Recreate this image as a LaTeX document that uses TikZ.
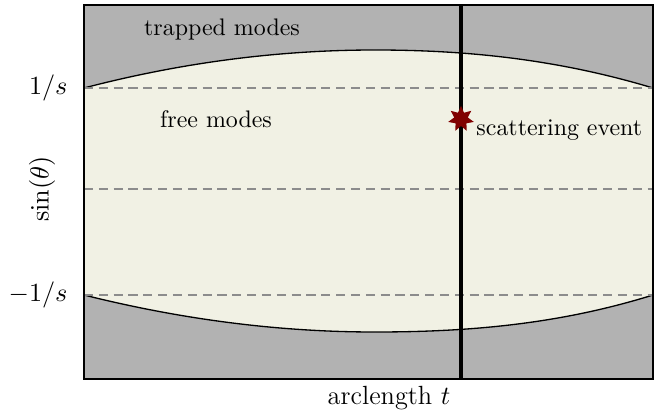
\documentclass[tikz,border=0pt]{standalone}
\usetikzlibrary{shapes.geometric}
\definecolor{trapgray}{RGB}{178,178,178}
\definecolor{freebg}{RGB}{241,241,228}
\definecolor{starred}{RGB}{128,0,0}
\definecolor{dashgray}{RGB}{140,140,140}
\tikzset{
  lbl/.style={inner sep=0pt},
  axlbl/.style={inner sep=0pt, font=\fontsize{11}{13}\selectfont},
  dashline/.style={draw=dashgray, line width=0.5pt, dash pattern=on 3.8pt off 2.4pt},
  bound/.style={line width=0.55pt},
  event/.style={star, star points=7, star point ratio=1.9, fill=starred, draw=none, minimum size=11pt, inner sep=0pt}
}
\begin{document}
\begin{tikzpicture}[x=0.418pt,y=-0.418pt]
\useasboundingbox (0,0) rectangle (662,412);
% trapped background
\fill[trapgray] (84,5) rectangle (653,379);
% free region
\fill[freebg] (84,88) .. controls (181,62.7) and (278,50) .. (375,50) .. controls (470,50) and (560,60) .. (653,88)
  -- (653,295) .. controls (560,324) and (470,332) .. (375,332) .. controls (278,332) and (181,319.3) .. (84,295) -- cycle;
\draw[bound] (84,88) .. controls (181,62.7) and (278,50) .. (375,50) .. controls (470,50) and (560,60) .. (653,88);
\draw[bound] (653,295) .. controls (560,324) and (470,332) .. (375,332) .. controls (278,332) and (181,319.3) .. (84,295);
% dashed levels
\draw[dashline] (84,88) -- (653,88);
\draw[dashline] (84,189) -- (653,189);
\draw[dashline] (84,295) -- (653,295);
% frame
\draw[line width=0.45pt] (84,5) rectangle (653,379);
% scattering line
\draw[line width=1.3pt] (461,5) -- (461,379);
\node[event] (ev) at (461,119) {};
\node[lbl, anchor=west] (evl) at (476,130) {scattering event};
% labels
\node[lbl] (trap) at (222,30) {trapped modes};
\node[lbl] (free) at (216,119) {free modes};
\node[axlbl, anchor=east] (up) at (68,88) {$1/s$};
\node[axlbl, anchor=east] (dn) at (68,295) {$-1/s$};
\node[axlbl, rotate=90] (yl) at (42,189) {$\sin(\theta)$};
\node[axlbl] (xl) at (389,398) {arclength $t$};
\end{tikzpicture}
\end{document}
